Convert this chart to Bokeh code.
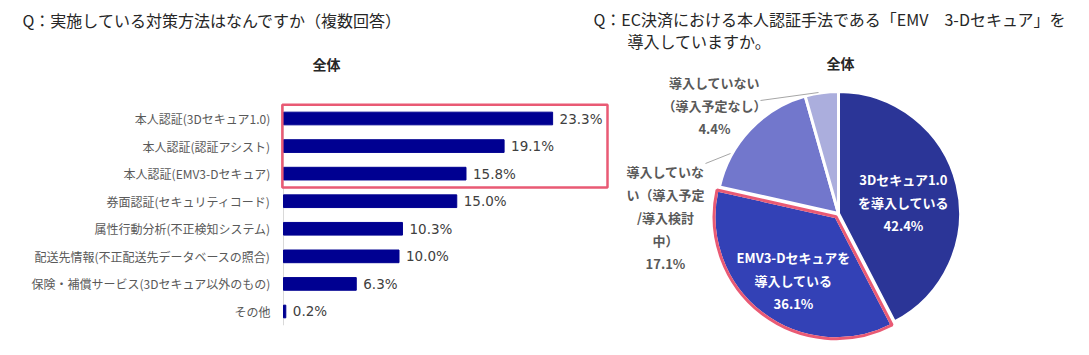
import math
from bokeh.plotting import figure
from bokeh.models import Range1d
from bokeh.core.properties import value
from bokeh.embed import file_html
from bokeh.resources import INLINE

# ---------------- data ----------------
categories = [
    "本人認証(3Dセキュア1.0)",
    "本人認証(認証アシスト)",
    "本人認証(EMV3-Dセキュア)",
    "券面認証(セキュリティコード)",
    "属性行動分析(不正検知システム)",
    "配送先情報(不正配送先データベースの照合)",
    "保険・補償サービス(3Dセキュア以外のもの)",
    "その他",
]
values = [23.3, 19.1, 15.8, 15.0, 10.3, 10.0, 6.3, 0.2]
value_labels = [f"{v:.1f}%" for v in values]

pie_names = [
    "3Dセキュア1.0\nを導入している",
    "EMV3-Dセキュアを\n導入している",
    "導入していな\nい（導入予定\n/導入検討\n中）",
    "導入していない\n（導入予定なし）",
]
pie_values = [42.4, 36.1, 17.1, 4.4]

title_left = "Q：実施している対策方法はなんですか（複数回答）"
title_right_1 = "Q：EC決済における本人認証手法である「EMV　3-Dセキュア」を"
title_right_2 = "導入していますか。"
subtitle = "全体"

JP = "Noto Sans CJK JP"
W, H = 1089, 355

# ---------------- scales ----------------
# bar chart: x in percent (0 at px 283), y = row index (0 at top)
SX, X0 = 11.55, 283
SY, Y0 = 27.57, 118
bar_x_range = Range1d(-X0 / SX, (W - X0) / SX)
bar_y_range = Range1d((H - Y0) / SY, -Y0 / SY)  # flipped: row 0 on top

p = figure(width=W, height=H, x_range=bar_x_range, y_range=bar_y_range,
           output_backend="svg", toolbar_location=None, min_border=0)
p.axis.visible = False
p.grid.visible = False
p.outline_line_color = None
# a pixel-like frame for the pie and titles
p.extra_x_ranges = {"px": Range1d(0, W)}
p.extra_y_ranges = {"px": Range1d(0, H)}

rows = list(range(len(categories)))

# axis line
p.segment(x0=[0], x1=[0], y0=[-0.5], y1=[len(categories) - 0.5],
          line_color="#D9D9D9", line_width=1)
p.hbar(y=rows, left=0, right=values, height=0.46, fill_color="#000091",
       line_color="#000091")
p.text(x=values, y=rows, text=value_labels, x_offset=7,
       text_baseline="middle", text_align="left",
       text_font=value("DejaVu Sans"), text_font_size="13.5px", text_color="#404040")
p.text(x=[0] * len(categories), y=rows, text=categories, x_offset=-13,
       text_baseline="middle", text_align="right",
       text_font=value(JP), text_font_size="12px", text_color="#595959")
# highlight box around the three 本人認証 rows
p.quad(left=[-0.1], right=[(607 - X0) / SX], top=[-0.5], bottom=[2.5],
       fill_color=None, line_color="#E95A74", line_width=2.5)

# ---------------- pie chart ----------------
cx, cy, r = 838, H - 213, 122
explode = [0, 4, 0, 0]
colors = ["#2B3597", "#3341B6", "#7277CC", "#ABAEDD"]
total = sum(pie_values)
xs, ys, sa, ea = [], [], [], []
cum = 0.0
for v, e in zip(pie_values, explode):
    a0 = 90 - 360 * cum / total
    cum += v
    a1 = 90 - 360 * cum / total
    mid = math.radians((a0 + a1) / 2)
    xs.append(cx + e * math.cos(mid))
    ys.append(cy + e * math.sin(mid))
    sa.append(math.radians(a1))
    ea.append(math.radians(a0))

q = dict(x_range_name="px", y_range_name="px")
p.wedge(x=xs, y=ys, radius=r, start_angle=sa, end_angle=ea,
        fill_color=colors, line_color="white", line_width=3, **q)
p.wedge(x=xs[1:2], y=ys[1:2], radius=r, start_angle=sa[1:2], end_angle=ea[1:2],
        fill_color=None, line_color="#E95A74", line_width=3, **q)

pie_texts = [f"{n}\n{v:.1f}%" for n, v in zip(pie_names, pie_values)]
label_x = [903, 793, 665, 714]
label_y = [H - 202, H - 280, H - 217, H - 105]
label_col = ["white", "white", "#595959", "#595959"]
p.text(x=label_x, y=label_y, text=pie_texts, text_align="center", text_baseline="middle",
       text_font=value(JP), text_font_size="13px", text_font_style="bold",
       text_color=label_col, text_line_height=1.2, **q)

p.segment(x0=[760, 705], y0=[H - 100, H - 163], x1=[818, 730], y1=[H - 92, H - 153],
          line_color="#A6A6A6", line_width=1, **q)

# ---------------- titles ----------------
p.text(x=[22, 593, 627], y=[H - 19, H - 18, H - 40],
       text=[title_left, title_right_1, title_right_2],
       text_align="left", text_baseline="middle",
       text_font=value(JP), text_font_size="16px", text_color="#262626", **q)
p.text(x=[326, 840], y=[H - 63, H - 62], text=[subtitle, subtitle],
       text_align="center", text_baseline="middle",
       text_font=value(JP), text_font_size="14px", text_font_style="bold",
       text_color="#262626", **q)

open("out.html", "w").write(file_html(p, INLINE))
